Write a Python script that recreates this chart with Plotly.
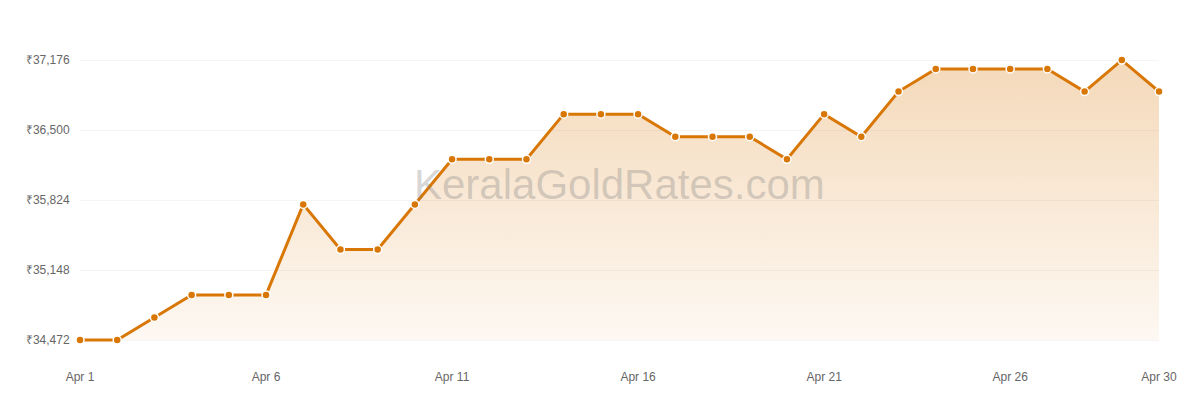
import plotly.graph_objects as go

# Gold rate for each day of April (rupees)
days = [f"2020-04-{d:02d}" for d in range(1, 31)]
rates = [34472, 34472, 34690, 34908, 34908, 34908, 35782, 35346, 35346, 35782,
         36218, 36218, 36218, 36654, 36654, 36654, 36436, 36436, 36436, 36218,
         36654, 36436, 36872, 37090, 37090, 37090, 37090, 36872, 37176, 36872]

# axis ticks
y_ticks = [34472, 35148, 35824, 36500, 37176]
y_tick_text = ["₹34,472", "₹35,148", "₹35,824", "₹36,500", "₹37,176"]
x_ticks = ["2020-04-01", "2020-04-06", "2020-04-11", "2020-04-16",
           "2020-04-21", "2020-04-26", "2020-04-30"]
x_tick_text = ["Apr 1", "Apr 6", "Apr 11", "Apr 16", "Apr 21", "Apr 26", "Apr 30"]

orange = "#d97706"
base = min(rates)

fig = go.Figure()

# invisible baseline so the area fills down to the lowest rate only
fig.add_trace(go.Scatter(
    x=days, y=[base] * len(days), mode="lines",
    line=dict(width=0, color="rgba(0,0,0,0)"),
    hoverinfo="skip", showlegend=False,
))

fig.add_trace(go.Scatter(
    x=days, y=rates, mode="lines+markers",
    fill="tonexty",
    fillgradient=dict(
        type="vertical",
        colorscale=[[0, "rgba(217,119,6,0.05)"], [1, "rgba(217,119,6,0.28)"]],
    ),
    line=dict(color=orange, width=3),
    marker=dict(size=8, color=orange, line=dict(color="white", width=1.5)),
    cliponaxis=False, showlegend=False,
))

fig.add_annotation(
    text="KeralaGoldRates.com", xref="paper", yref="paper",
    x=0.5, y=0.55, showarrow=False,
    font=dict(size=42, color="rgba(128,128,128,0.33)", family="Arial, Liberation Sans"),
)

# page body adds an 8px offset, so margins are shifted to compensate
fig.update_layout(
    width=1200, height=400,
    margin=dict(l=72, r=49, t=32, b=46),
    paper_bgcolor="white", plot_bgcolor="white",
    font=dict(family="Arial, Liberation Sans, sans-serif", size=12, color="#666"),
    xaxis=dict(
        type="date", range=["2020-04-01", "2020-04-30"],
        tickvals=x_ticks, ticktext=x_tick_text,
        showgrid=False, zeroline=False, showline=False,
        ticks="outside", ticklen=4, tickcolor="rgba(0,0,0,0)",
        tickfont=dict(size=12, color="#666"),
    ),
    yaxis=dict(
        range=[34260, 37370],
        tickvals=y_ticks, ticktext=y_tick_text,
        showgrid=True, gridcolor="#f4f4f4", gridwidth=1,
        zeroline=False, showline=False,
        ticks="outside", ticklen=7, tickcolor="rgba(0,0,0,0)",
        tickfont=dict(size=12, color="#666"),
    ),
)

fig.write_html("out.html")
